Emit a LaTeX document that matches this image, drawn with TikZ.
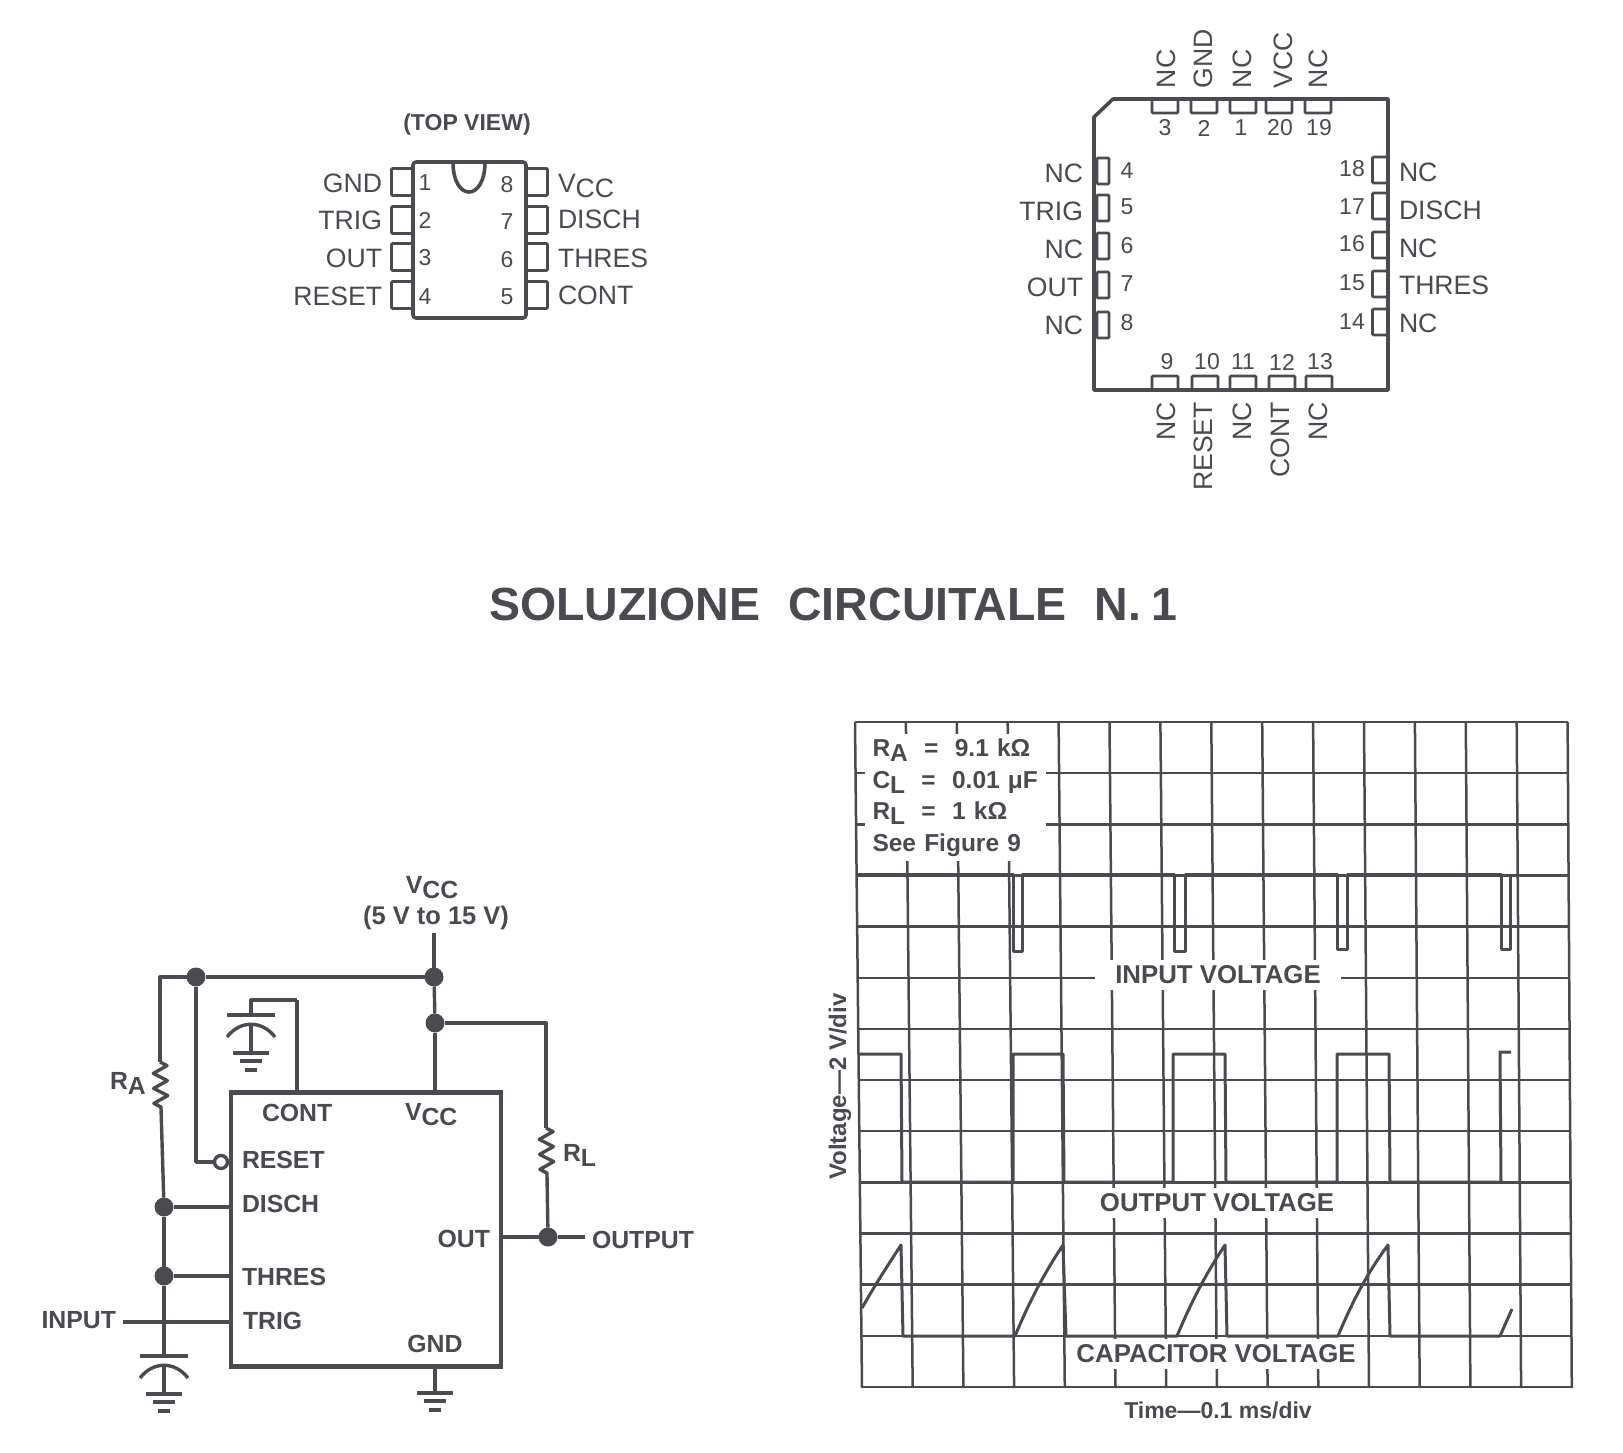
\documentclass[tikz,border=0pt]{standalone}
\usepackage{fontspec}
\setmainfont{Liberation Sans}
\usetikzlibrary{decorations.pathmorphing}
\definecolor{inkc}{HTML}{4A4B50}
\newcommand{\lowsub}[1]{\smash{\raisebox{-5pt}{#1}}}
\newcommand{\pinfont}{\fontsize{26.6}{29}\selectfont}
\newcommand{\numfont}{\fontsize{23}{25}\selectfont}
\newcommand{\boldfont}{\fontsize{24.8}{26}\selectfont\bfseries}

\begin{document}
\begin{tikzpicture}[
    x=1pt, y=-1pt,
    every node/.style = {inner sep=0pt, outer sep=0pt, text=inkc},
 pinlabel/.style = {font=\pinfont},
 pinnum/.style = {font=\numfont},
 iclabel/.style = {font=\boldfont},
 plotlabel/.style = {
        font=\fontsize{25.8}{27}\selectfont\bfseries,
        fill=white, minimum width=295pt, minimum height=30pt},
 pinbox/.style = {draw=inkc, line width=2.6pt, rectangle, rounded corners=1pt},
 chipline/.style = {draw=inkc, line width=3.6pt, line join=round},
 icbox/.style = {
        draw=inkc, rectangle, line width=4.5pt,
        minimum width=270pt, minimum height=274pt},
 wire/.style = {draw=inkc, line width=3.4pt, line join=round},
 rzig/.style = {wire, decorate,
        decoration={zigzag, amplitude=7pt, segment length=15pt}},
 junction/.style = {circle, fill=inkc, minimum size=19pt},
 bubble/.style = {circle, draw=inkc, line width=3.4pt, fill=white, minimum size=13pt},
 gridline/.style = {draw=inkc, line width=2.5pt},
 wave/.style = {draw=inkc, line width=3pt, line join=round},
 gndsym/.pic = {
        \draw[wire] (-18,0) -- (18,0);
        \draw[wire] (-11,8) -- (11,8);
        \draw[wire] (-6,17) -- (6,17);},
 capsym/.pic = {
        \draw[wire] (-24,0) -- (24,0);
        \draw[wire] (-24,22) .. controls (-11,5) and (11,5) .. (24,22);
        \draw[wire] (0,10) -- (0,38);
        \pic at (0,38) {gndsym};}
                    ]
\useasboundingbox (0,0) rectangle (1623,1452);
\fill[white] (0,0) rectangle (1623,1452);

% the 8 pin package
\node (topview) [font=\fontsize{23}{25}\selectfont\bfseries] at (467,125) {(TOP VIEW)};
\foreach \i/\yp/\yn/\yl/\lab in {1/182/183/183/GND,2/220/220/220/TRIG,3/257/258/258/OUT,4/295/297/296/RESET} {
    \node (dl\i) [pinbox, minimum width=21pt, minimum height=27pt] at (402,\yp) {};
    \node (dn\i) [pinnum] at (425,\yn) {\i};
    \node (dt\i) [pinlabel, anchor=east] at (382,\yl) {\lab};
}
\foreach \i/\yp/\yn/\yl/\lab in {8/182/185/183/{V\lowsub{CC}},7/220/222/219/DISCH,6/257/260/258/THRES,5/295/297/295/CONT} {
    \node (dr\i) [pinbox, minimum width=21pt, minimum height=27pt] at (537,\yp) {};
    \node (dn\i) [pinnum] at (507,\yn) {\i};
    \node (dt\i) [pinlabel, anchor=west] at (558,\yl) {\lab};
}
\draw[chipline, rounded corners=3pt] (413,162) rectangle (526,318);
\draw[chipline] (453,162) .. controls (453,202) and (485,202) .. (485,162);

% the 20 pin package
\foreach \i/\xp/\xn/\xl/\lab in {3/1165/1165/1166/NC,2/1204/1204/1203/GND,1/1243/1241/1242/NC,20/1279/1280/1283/VCC,19/1318/1319/1318/NC} {
    \node (lt\i) [pinbox, minimum width=26pt, minimum height=14pt] at (\xp,106) {};
    \node (ln\i) [pinnum] at (\xn,128) {\i};
    \node (ll\i) [pinlabel, rotate=90, anchor=west] at (\xl,88) {\lab};
}
\foreach \i/\xp/\xn/\xl/\lab in {9/1165/1167/1166/NC,10/1205/1207/1203/RESET,11/1243/1243/1242/NC,12/1282/1282/1280/CONT,13/1319/1320/1318/NC} {
    \node (lb\i) [pinbox, minimum width=26pt, minimum height=14pt] at (\xp,383) {};
    \node (ln\i) [pinnum] at (\xn,362) {\i};
    \node (ll\i) [pinlabel, rotate=90, anchor=east] at (\xl,402) {\lab};
}
\foreach \i/\yp/\yn/\yl/\lab in {4/171/171/173/NC,5/208/207/211/TRIG,6/246/246/249/NC,7/285/284/287/OUT,8/325/323/325/NC} {
    \node (ll\i) [pinbox, minimum width=12pt, minimum height=26pt] at (1103,\yp) {};
    \node (ln\i) [pinnum] at (1127,\yn) {\i};
    \node (lt\i) [pinlabel, anchor=east] at (1083,\yl) {\lab};
}
\foreach \i/\yp/\yn/\yl/\lab in {18/170/169/172/NC,17/206/207/210/DISCH,16/245/244/248/NC,15/284/283/285/THRES,14/322/322/323/NC} {
    \node (lr\i) [pinbox, minimum width=15pt, minimum height=26pt] at (1380,\yp) {};
    \node (ln\i) [pinnum] at (1352,\yn) {\i};
    \node (lt\i) [pinlabel, anchor=west] at (1399,\yl) {\lab};
}
\draw[chipline] (1113,99) -- (1388,99) -- (1388,390) -- (1094,390) -- (1094,117) -- cycle;

% the title
\node (title) [font=\fontsize{46.5}{50}\selectfont\bfseries] at (833,604)
        {SOLUZIONE\hspace{28pt}CIRCUITALE\hspace{28pt}N.\hspace{10pt}1};

% the circuit
\node (ic) [icbox] at (366,1229.5) {};
\node (jvcc) [junction] at (434,977) {};
\node (jrst) [junction] at (196,977) {};
\node (jrl)  [junction] at (435,1023) {};
\node (jdis) [junction] at (164,1207) {};
\node (jthr) [junction] at (164,1276) {};
\node (jout) [junction] at (548,1237) {};
\node (rstbub) [bubble] at (221,1162) {};
\coordinate (vcctop) at (434,933);
\coordinate (ratop) at (160,1062);
\coordinate (rabot) at (161,1108);
\coordinate (rltop) at (546,1128);
\coordinate (rlbot) at (547,1175);
\coordinate (contbend) at (297,1000);
\coordinate (capa) at (251,1015);
\coordinate (capb) at (164,1356);
\coordinate (gndb) at (435,1393);
\coordinate (inend) at (123,1322);
\coordinate (outend) at (585,1237);
% lines of the circuit
\draw[wire] (vcctop) -- (jvcc);
\draw[wire] (jvcc) -- (jrst);
\draw[wire] (jrst) -| (ratop);
\draw[rzig] (ratop) -- (rabot);
\draw[wire] (rabot) -- (jdis);
\draw[wire] (jdis) -- (jthr);
\draw[wire] (jthr) -- (capb);
\draw[wire] (jrst) |- (rstbub);
\draw[wire] (jvcc) -- (jrl);
\draw[wire] (jrl) -- (jrl |- ic.north);
\draw[wire] (jrl) -| (rltop);
\draw[rzig] (rltop) -- (rlbot);
\draw[wire] (rlbot) -- (jout);
\draw[wire] (ic.east |- jout) -- (jout);
\draw[wire] (jout) -- (outend);
\draw[wire] (jdis) -- (jdis -| ic.west);
\draw[wire] (jthr) -- (jthr -| ic.west);
\draw[wire] (inend) -- (inend -| ic.west);
\draw[wire] (contbend) -- (contbend |- ic.north);
\draw[wire] (contbend) -| (capa);
\draw[wire] (gndb |- ic.south) -- (gndb);
\pic at (capa) {capsym};
\pic at (capb) {capsym};
\pic at (gndb) {gndsym};
% labels of the circuit
\node (lvcc) [iclabel] at (432,885) {V\lowsub{CC}};
\node (lrange) [font=\fontsize{25.5}{27}\selectfont\bfseries] at (436,918) {(5 V to 15 V)};
\node (lra) [iclabel, anchor=west] at (110,1081) {R\lowsub{A}};
\node (lrl) [iclabel, anchor=west] at (563,1153) {R\lowsub{L}};
\node (lin) [iclabel, anchor=east] at (116,1320) {INPUT};
\node (lout) [iclabel, anchor=west] at (592,1240) {OUTPUT};
\node (pcont) [iclabel, anchor=west] at (262,1113) {CONT};
\node (pvcc) [iclabel, anchor=west] at (405,1112) {V\lowsub{CC}};
\node (preset) [iclabel, anchor=west] at (242,1160) {RESET};
\node (pdisch) [iclabel, anchor=west] at (242,1204) {DISCH};
\node (pthres) [iclabel, anchor=west] at (242,1277) {THRES};
\node (ptrig) [iclabel, anchor=west] at (243,1321) {TRIG};
\node (pout) [iclabel, anchor=east] at (490,1239) {OUT};
\node (pgnd) [iclabel] at (435,1344) {GND};

% the grid of the plot
\foreach \k in {0,...,14}
    \draw[gridline] ({855+\k*50.9},722) -- ({862+\k*50.7},1388);
\foreach \k in {0,...,13}
    \draw[gridline] ({855+\k*0.54},{722+\k*51.15}) -- ({1568+\k*0.31},{722+\k*51.15});
% the labels over the grid
\node (params) [fill=white, inner xsep=8pt, text width=165pt, align=left,
        minimum height=127pt, font=\fontsize{24.5}{31.5}\selectfont\bfseries] at (955,797.5)
        {\mbox{R\lowsub{A}\ \ =\ \ 9.1 kΩ}\\
         \mbox{C\lowsub{L}\ \ =\ \ 0.01 μF}\\
         \mbox{R\lowsub{L}\ \ =\ \ 1 kΩ}\\
         \mbox{See Figure 9}};
\node (linput) [plotlabel, minimum width=246pt] at (1218,975) {INPUT VOLTAGE};
\node (loutput) [plotlabel] at (1217,1203) {OUTPUT VOLTAGE};
\node (lcap) [plotlabel] at (1216,1354) {CAPACITOR VOLTAGE};
\node (lvolt) [font=\fontsize{24}{26}\selectfont\bfseries, rotate=90] at (840,1086.5) {Voltage—2 V/div};
\node (ltime) [font=\fontsize{23}{25}\selectfont\bfseries] at (1218,1410) {Time—0.1 ms/div};
% the input voltage
\draw[wave] (858,874) -- (1013,874) -- (1013,951) -- (1022,951) -- (1022,874)
    -- (1174,874) -- (1174,951) -- (1185,951) -- (1185,874)
    -- (1337,874) -- (1337,949) -- (1347,949) -- (1347,874)
    -- (1501,874) -- (1501,949) -- (1510,949) -- (1510,874);
% the output voltage
\draw[wave] (859,1054) -- (901,1054) -- (902,1182) -- (1013,1182) -- (1013,1054)
    -- (1063,1054) -- (1064,1182) -- (1173,1182) -- (1173,1054)
    -- (1225,1054) -- (1226,1182) -- (1337,1182) -- (1337,1054)
    -- (1389,1054) -- (1390,1182) -- (1501,1182) -- (1500,1052) -- (1511,1052);
% the capacitor voltage
\draw[wave] (862,1308) .. controls (875,1285) and (888,1265) .. (901,1245)
    -- (903,1336) -- (1015,1336) .. controls (1030,1300) and (1045,1272) .. (1063,1245)
    -- (1066,1336) -- (1177,1336) .. controls (1192,1300) and (1207,1272) .. (1225,1245)
    -- (1227,1336) -- (1338,1336) .. controls (1353,1300) and (1368,1272) .. (1388,1245)
    -- (1390,1336) -- (1500,1336) -- (1512,1309);
\end{tikzpicture}
\end{document}
